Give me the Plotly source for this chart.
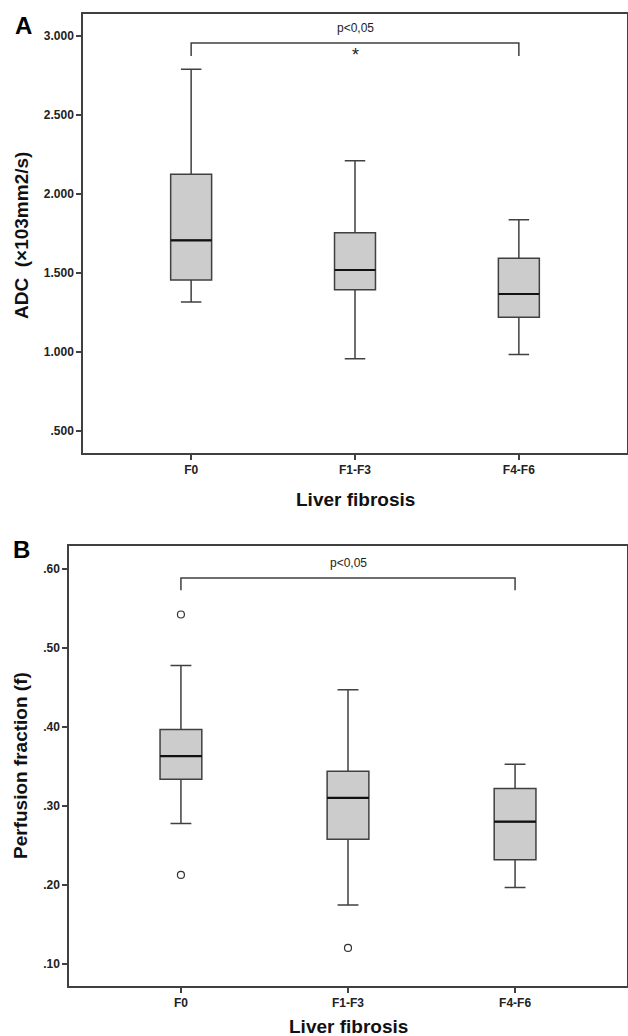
import plotly.graph_objects as go

# ---------------- data ----------------
categories = ["F0", "F1-F3", "F4-F6"]

# Panel A: ADC
adc_lower = [1.316, 0.958, 0.985]
adc_q1 = [1.456, 1.394, 1.220]
adc_median = [1.707, 1.519, 1.367]
adc_q3 = [2.125, 1.755, 1.593]
adc_upper = [2.790, 2.211, 1.837]
adc_ticks = [0.5, 1.0, 1.5, 2.0, 2.5, 3.0]
adc_ticktext = [".500", "1.000", "1.500", "2.000", "2.500", "3.000"]

# Panel B: Perfusion fraction
pf_lower = [0.2776, 0.1747, 0.1966]
pf_q1 = [0.3337, 0.2577, 0.2320]
pf_median = [0.3628, 0.3100, 0.2800]
pf_q3 = [0.3966, 0.3438, 0.3219]
pf_upper = [0.4776, 0.4468, 0.3527]
pf_out_cat = [0, 0, 1]
pf_out_val = [0.542, 0.2127, 0.1203]
pf_ticks = [0.1, 0.2, 0.3, 0.4, 0.5, 0.6]
pf_ticktext = [".10", ".20", ".30", ".40", ".50", ".60"]

# significance brackets (value levels)
adc_bracket = dict(x0=0, x1=2, y_top=2.956, y_drop=2.873, text_y=3.05, star_y=2.88)
pf_bracket = dict(x0=0, x1=2, y_top=0.5882, y_drop=0.5725, text_y=0.607)

# ---------------- style ----------------
W, H = 628, 1036
LINE = "#404040"
FILL = "#cccccc"
BOX_W = 0.25
FONT = "Liberation Sans, Arial, sans-serif"
pos = list(range(len(categories)))

fig = go.Figure()


def add_panel(fig, xa, ya, lower, q1, med, q3, upper):
    fig.add_trace(go.Box(
        x=pos, q1=q1, median=med, q3=q3, lowerfence=lower, upperfence=upper,
        xaxis=xa, yaxis=ya, width=BOX_W, whiskerwidth=0.5,
        fillcolor=FILL, line=dict(color=LINE, width=1.5),
        boxpoints=False, hoverinfo="skip", showlegend=False,
    ))
    # emphasised median lines
    mx, my = [], []
    for p, m in zip(pos, med):
        mx += [p - BOX_W / 2, p + BOX_W / 2, None]
        my += [m, m, None]
    fig.add_trace(go.Scatter(
        x=mx, y=my, mode="lines", xaxis=xa, yaxis=ya,
        line=dict(color="#111111", width=2.2), hoverinfo="skip", showlegend=False,
    ))


add_panel(fig, "x", "y", adc_lower, adc_q1, adc_median, adc_q3, adc_upper)
add_panel(fig, "x2", "y2", pf_lower, pf_q1, pf_median, pf_q3, pf_upper)

fig.add_trace(go.Scatter(
    x=pf_out_cat, y=pf_out_val, mode="markers", xaxis="x2", yaxis="y2",
    marker=dict(symbol="circle-open", size=7, color="#333333", line=dict(width=1.2)),
    hoverinfo="skip", showlegend=False,
))

# brackets
for xref, yref, b in [("x", "y", adc_bracket), ("x2", "y2", pf_bracket)]:
    fig.add_shape(type="path", xref=xref, yref=yref,
                  path=f"M {b['x0']},{b['y_drop']} L {b['x0']},{b['y_top']} L {b['x1']},{b['y_top']} L {b['x1']},{b['y_drop']}",
                  line=dict(color=LINE, width=1.5))
    fig.add_annotation(x=(b["x0"] + b["x1"]) / 2, y=b["text_y"], xref=xref, yref=yref,
                       text="p<0,05", showarrow=False, xanchor="center", yanchor="middle",
                       font=dict(family=FONT, size=12, color="#222222"))
fig.add_annotation(x=1, y=adc_bracket["star_y"], xref="x", yref="y", text="*",
                   showarrow=False, xanchor="center", yanchor="middle",
                   font=dict(family=FONT, size=18, color="#222222"))

axis_common = dict(
    showline=True, mirror=True, linecolor=LINE, linewidth=1.5,
    ticks="outside", ticklen=5, tickwidth=1.5, tickcolor=LINE,
    showgrid=False, zeroline=False,
    tickfont=dict(family=FONT, size=12, color="#222222", weight="bold"),
)

top_dom = [1 - 453 / H, 1 - 14 / H]
bot_dom = [1 - 986 / H, 1 - 546 / H]

fig.update_layout(
    width=W, height=H, margin=dict(l=0, r=0, t=0, b=0),
    paper_bgcolor="white", plot_bgcolor="white",
    xaxis=dict(domain=[83 / W, 627 / W], range=[-0.66, 2.66],
               tickvals=pos, ticktext=categories, anchor="y", **axis_common),
    yaxis=dict(domain=top_dom, range=[0.361, 3.139],
               tickvals=adc_ticks, ticktext=adc_ticktext, anchor="x", **axis_common),
    xaxis2=dict(domain=[69 / W, 627 / W], range=[-0.67, 2.67],
                tickvals=pos, ticktext=categories, anchor="y2", **axis_common),
    yaxis2=dict(domain=bot_dom, range=[0.0722, 0.6286],
                tickvals=pf_ticks, ticktext=pf_ticktext, anchor="x2", **axis_common),
)

title_font = dict(family=FONT, size=19, color="#111111", weight="bold")


def paper_text(text, px, py, font, angle=0):
    fig.add_annotation(x=px / W, y=1 - py / H, xref="paper", yref="paper",
                       text=text, textangle=angle, showarrow=False,
                       xanchor="center", yanchor="middle", font=font)


# axis titles
paper_text("ADC\u00a0\u00a0(×103mm2/s)", 21, 236, title_font, -90)
paper_text("Perfusion fraction (f)", 20, 766, title_font, -90)
paper_text("Liver fibrosis", 355, 500, title_font)
paper_text("Liver fibrosis", 348, 1026, title_font)
# panel letters
panel_font = dict(family=FONT, size=24, color="#000000", weight="bold")
paper_text("A", 23, 26, panel_font)
paper_text("B", 21, 549, panel_font)

fig.write_html(
    "out.html",
    config={"displayModeBar": False},
    post_script="document.body.style.margin='0';document.body.style.overflow='hidden';",
)
